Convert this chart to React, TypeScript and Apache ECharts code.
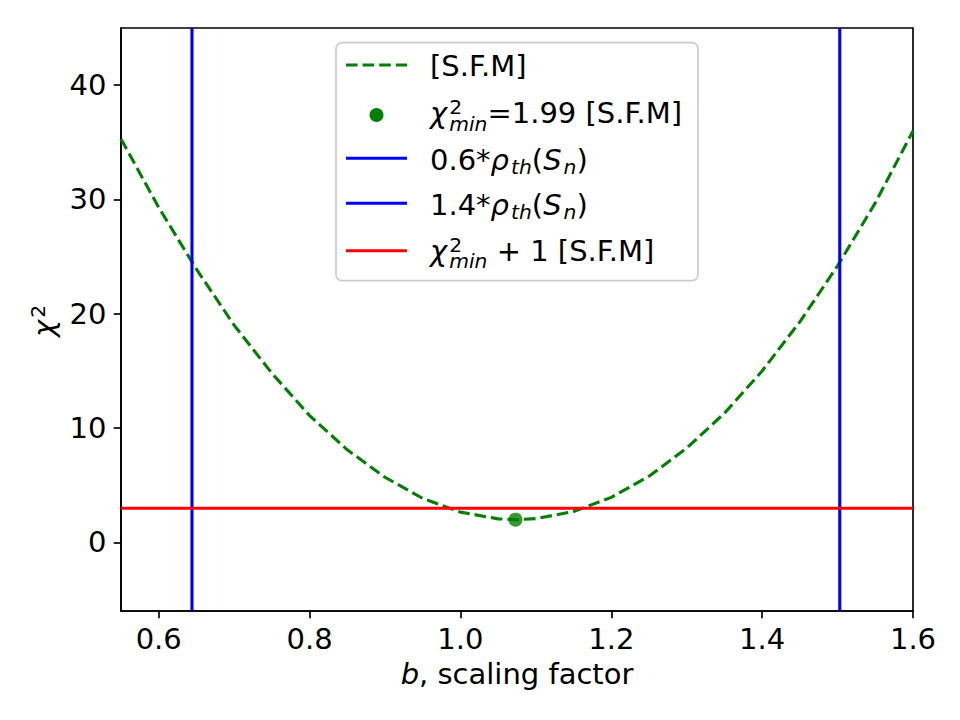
import { useEffect, useRef } from 'react';
import * as echarts from 'echarts';

// χ² of the S.F.M fit as a function of the scaling factor b
const bGrid = [0.55, 0.6, 0.65, 0.7, 0.75, 0.8, 0.85, 0.9, 0.95, 1.0, 1.05, 1.075, 1.1, 1.15, 1.2, 1.25, 1.3, 1.35, 1.4, 1.45, 1.5, 1.55, 1.6];
const chi2Sfm = [35.3, 29.3, 23.9, 19.0, 14.8, 11.1, 8.1, 5.7, 3.85, 2.65, 2.06, 1.99, 2.08, 2.7, 3.94, 5.79, 8.25, 11.3, 15.0, 19.3, 24.2, 29.7, 36.0];

// best fit
const bMin = 1.073;
const chi2Min = 1.99;

// theoretical density and the bounds drawn around it
const rhoTh = 1.0735;
const rhoFactors = [0.6, 1.4];

// axes
const xRange = [0.55, 1.6];
const yRange = [-6, 45];
const xTicks = [0.6, 0.8, 1.0, 1.2, 1.4, 1.6];
const yTicks = [0, 10, 20, 30, 40];

const FONT = '"DejaVu Sans", "Liberation Sans", sans-serif';
const FS = 29;
const SS = 20.3;
const LW = 3.1;
const DASH = [11.6, 5];
const AXW = 1.67;
const GREEN = '#008000';
const BLUE = '#0000ff';
const RED = '#ff0000';

type Run = { t: string; it?: boolean; pos?: 'sup' | 'sub' | 'subLow'; stack?: boolean };

const SHIFT: Record<string, number> = { sup: -9.3, sub: 4, subLow: 7.3 };
const CENTRAL = 0.346; // central baseline above alphabetic, in em

function makeMeasure() {
  const ctx = document.createElement('canvas').getContext('2d')!;
  return (t: string, size: number, it: boolean) => {
    ctx.font = `${it ? 'italic ' : ''}${size}px "DejaVu Sans"`;
    return ctx.measureText(t).width;
  };
}

function runsToTexts(runs: Run[], x0: number, baseline: number, measure: ReturnType<typeof makeMeasure>) {
  const out: any[] = [];
  let x = x0;
  let prevStart = x0;
  let prevW = 0;
  let prevItalic = false;
  runs.forEach((r) => {
    const size = r.pos ? SS : FS;
    const w = measure(r.t, size, !!r.it);
    let start: number;
    if (r.stack) {
      start = prevStart;
      const end = Math.max(prevStart + prevW, start + w);
      x = end;
    } else {
      start = x + (r.pos && prevItalic ? 2 : 0);
      x = start + w;
    }
    const base = baseline + (r.pos ? SHIFT[r.pos] : 0);
    out.push({
      type: 'text',
      x: start,
      y: base - CENTRAL * size,
      silent: true,
      z: 110,
      style: {
        text: r.t,
        fill: '#000',
        fontSize: size,
        fontFamily: FONT,
        fontStyle: r.it ? 'italic' : 'normal',
        align: 'left',
        textAlign: 'left',
        verticalAlign: 'middle',
        textVerticalAlign: 'middle',
      },
    });
    if (!r.stack) {
      prevStart = start;
      prevW = w;
    }
    prevItalic = !!r.it && !r.pos;
    if (r.stack) x = Math.max(x, start + w);
  });
  return out;
}

export default function App() {
  const ref = useRef<HTMLDivElement>(null);

  useEffect(() => {
    document.body.style.margin = '0';
    if (!ref.current) return;
    const chart = echarts.init(ref.current, undefined, { renderer: 'svg' });
    const measure = makeMeasure();

    const chiLabel = (tail: string): Run[] => [
      { t: 'χ', it: true },
      { t: '2', pos: 'sup' },
      { t: 'min', it: true, pos: 'subLow', stack: true },
      { t: tail },
    ];
    const rhoLabel = (f: number): Run[] => [
      { t: `${f}*` },
      { t: 'ρ', it: true },
      { t: 'th', it: true, pos: 'sub' },
      { t: '(' },
      { t: 'S', it: true },
      { t: 'n', it: true, pos: 'sub' },
      { t: ')' },
    ];

    const legendRows: { runs: Run[]; handle: string; color: string }[] = [
      { runs: [{ t: '[S.F.M]' }], handle: 'dash', color: GREEN },
      { runs: chiLabel(`=${chi2Min.toFixed(2)} [S.F.M]`), handle: 'dot', color: GREEN },
      { runs: rhoLabel(rhoFactors[0]), handle: 'line', color: BLUE },
      { runs: rhoLabel(rhoFactors[1]), handle: 'line', color: BLUE },
      { runs: chiLabel(' + 1 [S.F.M]'), handle: 'line', color: RED },
    ];
    const rowBase = [76, 123.3, 170, 215, 261];
    const rowHandle = [65, 115, 158.3, 203.3, 250.7];
    const hx0 = 346;
    const hx1 = 407;
    const tx = 430;

    const legendEls: any[] = [
      {
        type: 'rect',
        shape: { x: 336, y: 42.7, width: 362, height: 238, r: 6 },
        style: { fill: 'rgba(255,255,255,0.8)', stroke: '#cccccc', lineWidth: AXW },
        silent: true,
        z: 100,
      },
    ];
    legendRows.forEach((row, i) => {
      const hy = rowHandle[i];
      if (row.handle === 'dot') {
        legendEls.push({
          type: 'circle',
          shape: { cx: (hx0 + hx1) / 2, cy: hy, r: 7 },
          style: { fill: row.color },
          silent: true,
          z: 105,
        });
      } else {
        legendEls.push({
          type: 'line',
          shape: { x1: hx0, y1: hy, x2: hx1, y2: hy },
          style: {
            stroke: row.color,
            lineWidth: LW,
            lineDash: row.handle === 'dash' ? DASH : null,
          },
          silent: true,
          z: 105,
        });
      }
      legendEls.push(...runsToTexts(row.runs, tx, rowBase[i], measure));
    });

    // y-axis title χ², read bottom to top
    const chiW = measure('χ', FS, true);
    const yTitle = {
      type: 'group',
      x: 54,
      y: 337,
      rotation: Math.PI / 2,
      silent: true,
      children: [
        {
          type: 'text',
          x: 0,
          y: -CENTRAL * FS,
          style: { text: 'χ', fill: '#000', fontSize: FS, fontFamily: FONT, fontStyle: 'italic', align: 'left', textAlign: 'left', verticalAlign: 'middle', textVerticalAlign: 'middle' },
        },
        {
          type: 'text',
          x: chiW + 2,
          y: -9.3 - CENTRAL * SS,
          style: { text: '2', fill: '#000', fontSize: SS, fontFamily: FONT, align: 'left', textAlign: 'left', verticalAlign: 'middle', textVerticalAlign: 'middle' },
        },
      ],
    };

    const axisCommon = {
      axisLine: { show: true, onZero: false, lineStyle: { color: '#000', width: AXW } },
      splitLine: { show: false },
    };

    chart.setOption({
      animation: false,
      backgroundColor: '#fff',
      grid: {
        left: 121,
        right: 47,
        top: 28,
        bottom: 109,
        show: true,
        borderColor: '#000',
        borderWidth: AXW,
        backgroundColor: 'transparent',
      },
      xAxis: {
        type: 'value',
        min: xRange[0],
        max: xRange[1],
        ...axisCommon,
        axisTick: { show: true, customValues: xTicks, length: 7.3, lineStyle: { color: '#000', width: AXW } },
        axisLabel: {
          customValues: xTicks,
          formatter: (v: number) => v.toFixed(1),
          margin: 13,
          fontSize: FS,
          color: '#000',
          fontFamily: FONT,
        },
        name: '{it|b}{rm|, scaling factor}',
        nameLocation: 'middle',
        nameGap: 48,
        nameTextStyle: {
          fontSize: FS,
          fontFamily: FONT,
          color: '#000',
          rich: {
            it: { fontSize: FS, fontFamily: FONT, fontStyle: 'italic', color: '#000' },
            rm: { fontSize: FS, fontFamily: FONT, color: '#000' },
          },
        },
      },
      yAxis: {
        type: 'value',
        min: yRange[0],
        max: yRange[1],
        ...axisCommon,
        axisTick: { show: true, customValues: yTicks, length: 7.3, lineStyle: { color: '#000', width: AXW } },
        axisLabel: {
          customValues: yTicks,
          margin: 14.6,
          fontSize: FS,
          color: '#000',
          fontFamily: FONT,
        },
      },
      series: [
        {
          type: 'line',
          name: '[S.F.M]',
          data: bGrid.map((b, i) => [b, chi2Sfm[i]]),
          symbol: 'none',
          silent: true,
          lineStyle: { color: GREEN, width: LW, type: DASH },
          z: 2,
        },
        {
          type: 'scatter',
          name: 'min',
          data: [[bMin, chi2Min]],
          symbolSize: 14,
          silent: true,
          itemStyle: { color: GREEN },
          z: 3,
        },
        ...rhoFactors.map((f) => ({
          type: 'line',
          data: [
            [f * rhoTh, yRange[0]],
            [f * rhoTh, yRange[1]],
          ],
          symbol: 'none',
          silent: true,
          lineStyle: { color: BLUE, width: LW },
          z: 4,
        })),
        {
          type: 'line',
          data: [
            [xRange[0], chi2Min + 1],
            [xRange[1], chi2Min + 1],
          ],
          symbol: 'none',
          silent: true,
          lineStyle: { color: RED, width: LW },
          z: 5,
        },
      ],
      graphic: [yTitle, ...legendEls],
    });

    return () => chart.dispose();
  }, []);

  return <div ref={ref} style={{ width: 960, height: 720 }} />;
}
